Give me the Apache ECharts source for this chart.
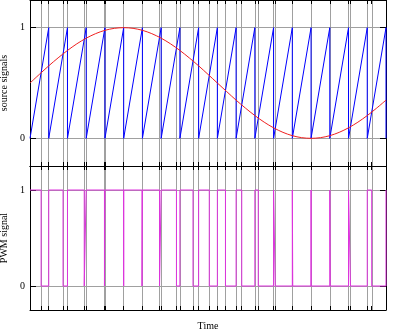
<!DOCTYPE html>
<html><head><meta charset="utf-8">
<script src="https://cdn.jsdelivr.net/npm/echarts@6/dist/echarts.min.js"></script>
<style>html,body{margin:0;padding:0;background:#fff}#c{width:400px;height:333px}</style>
</head><body><div id="c"></div>
<script>
// carrier (sawtooth) resets, in time units
const carrierResets = [1,2,3,4,5,6,7,8,9,10,11,12,13,14,15,16,17,18,19];
// times where the sawtooth crosses the reference sine (one per carrier period)
const crossings = [0.593,1.763,2.895,3.974,5.0,5.977,6.913,7.816,8.699,9.568,10.432,11.301,12.183,13.088,14.023,15.0,16.025,17.105,18.237];
// reference sine samples
const sineT = [0,0.5,1,1.5,2,2.5,3,3.5,4,4.5,5,5.5,6,6.5,7,7.5,8,8.5,9,9.5,10,10.5,11,11.5,12,12.5,13,13.5,14,14.5,15,15.5,16,16.5,17,17.5,18,18.5,19];
const sineV = [0.5,0.578,0.655,0.727,0.794,0.854,0.905,0.946,0.976,0.994,1.0,0.994,0.976,0.946,0.905,0.854,0.794,0.727,0.655,0.578,0.5,0.422,0.345,0.273,0.206,0.146,0.095,0.054,0.024,0.006,0.0,0.006,0.024,0.054,0.095,0.146,0.206,0.273,0.345];
const yTicks = [0,1];
const topTitle = 'source signals', botTitle = 'PWM signal', xTitle = 'Time';

// sawtooth polyline
const saw = [[0,0]];
carrierResets.forEach(r => { saw.push([r,1]); saw.push([r,0]); });
// PWM step polyline: high from reset to crossing, low from crossing to next reset
const pwm = [[0,1]];
crossings.forEach((c,i) => {
  pwm.push([c,1]); pwm.push([c,0]);
  const r = carrierResets[i];
  pwm.push([r,0]); pwm.push([r,1]);
});
const sine = sineT.map((t,i)=>[t,sineV[i]]);
const xTicks = crossings.concat(carrierResets).sort((a,b)=>a-b);

const FONT = 'Liberation Serif';
const gridCol = '#a0a0a0';
function xAx(grid, pos){
  return {type:'value', gridIndex:grid, position:pos, min:0, max:19,
    axisLine:{show:true, onZero:false, lineStyle:{color:'#000', width:1}},
    axisTick:{show:true, inside:true, length:4, customValues:xTicks, lineStyle:{color:'#000'}},
    axisLabel:{show:false}, splitLine:{show:false},
    name: (grid===1 && pos==='bottom') ? xTitle : '', nameLocation:'middle', nameGap:11,
    nameTextStyle:{fontFamily:FONT, fontSize:10, color:'#000'}};
}
function yAx(grid, pos, name){
  return {type:'value', gridIndex:grid, position:pos, min:-0.25, max:1.25,
    axisLine:{show:true, onZero:false, lineStyle:{color:'#000', width:1}},
    axisTick:{show:true, inside:true, length:6, customValues:yTicks, lineStyle:{color:'#000'}},
    axisLabel:{show: pos==='left', customValues:yTicks, fontFamily:FONT, fontSize:10, color:'#000', margin:5},
    splitLine:{show:false},
    name: pos==='left' ? name : '', nameLocation:'middle', nameRotate:90, nameGap:11,
    nameTextStyle:{fontFamily:FONT, fontSize:10, color:'#000'}};
}
function gridLines(grid){
  return {type:'line', xAxisIndex: grid*2, yAxisIndex: grid*2, data:[], z:0, silent:true,
    markLine:{silent:true, z:0, symbol:'none', animation:false, label:{show:false},
      lineStyle:{color:gridCol, width:1, type:'solid'},
      data: xTicks.map(v=>({xAxis:v})).concat(yTicks.map(v=>({yAxis:v})))}};
}
const chart = echarts.init(document.getElementById('c'), null, {renderer:'canvas'});
chart.setOption({
  animation:false,
  backgroundColor:'#fff',
  grid:[{left:30, top:0, width:356, height:166, outerBoundsMode:'none', containLabel:false},
        {left:30, top:166, width:356, height:144, outerBoundsMode:'none', containLabel:false}],
  xAxis:[xAx(0,'bottom'), xAx(0,'top'), xAx(1,'bottom'), xAx(1,'top')],
  yAxis:[yAx(0,'left',topTitle), yAx(0,'right'), yAx(1,'left',botTitle), yAx(1,'right')],
  series:[
    gridLines(0), gridLines(1),
    {type:'line', xAxisIndex:0, yAxisIndex:0, data:saw, showSymbol:false, smooth:false, z:10,
      lineStyle:{color:'#0000ff', width:1}},
    {type:'line', xAxisIndex:0, yAxisIndex:0, data:sine, showSymbol:false, smooth:0.3, z:11,
      lineStyle:{color:'#f02020', width:1}},
    {type:'line', xAxisIndex:2, yAxisIndex:2, data:pwm, showSymbol:false, smooth:false, z:10,
      lineStyle:{color:'#dd33dd', width:1}}
  ]
});
</script></body></html>
